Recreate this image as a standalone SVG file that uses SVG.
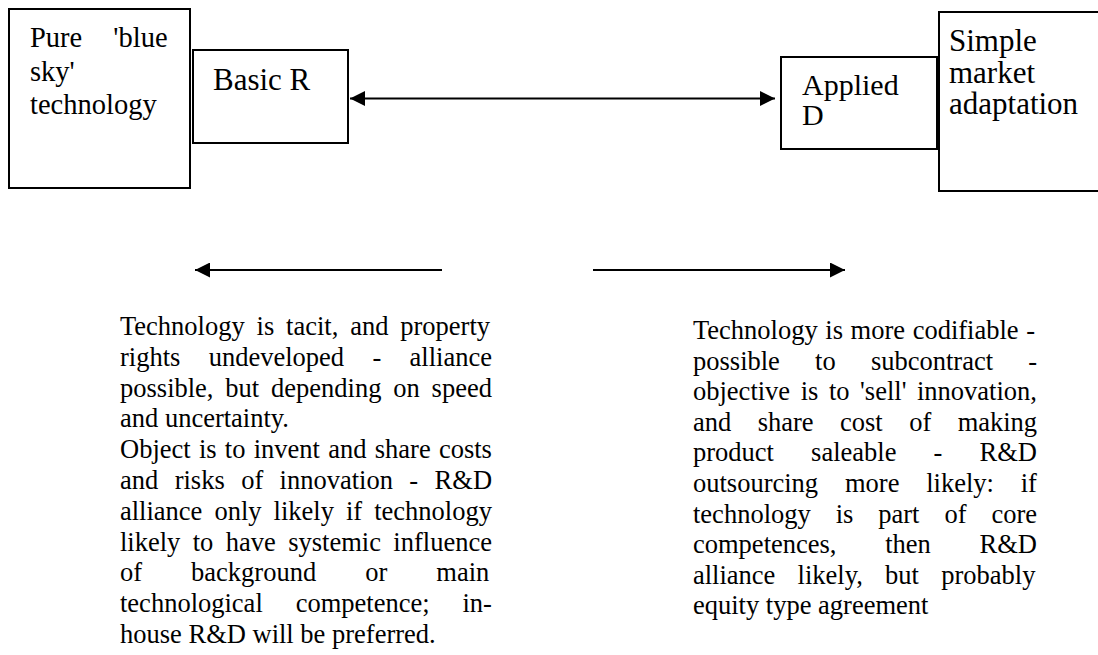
<svg xmlns="http://www.w3.org/2000/svg" width="1098" height="655" viewBox="0 0 1098 655">
<style>
  .box { fill: #fff; stroke: #000; stroke-width: 2; }
  .t { font-family: "Liberation Serif", "Times New Roman", serif; fill: #000; }
  .body { font-size: 26.5px; }
  .conn { stroke: #000; stroke-width: 2; fill: none; }
</style>
<defs>
  <marker id="ah" markerUnits="userSpaceOnUse" markerWidth="15" markerHeight="15" refX="15" refY="7.5" orient="auto-start-reverse">
    <path d="M0,0 L15,7.5 L0,15 z" fill="#000"/>
  </marker>
</defs>
<rect width="1098" height="655" fill="#fff"/>

<g id="node-blue-sky">
  <rect class="box" x="9" y="9" width="181" height="179"/>
  <text class="t" font-size="28.5" x="30" y="47" word-spacing="24">Pure 'blue</text>
  <text class="t" font-size="28.5" x="30" y="80.5">sky'</text>
  <text class="t" font-size="28.5" x="30" y="114">technology</text>
</g>
<g id="node-basic-r">
  <rect class="box" x="193" y="50" width="155" height="93"/>
  <text class="t" font-size="31" x="213" y="90">Basic R</text>
</g>
<g id="node-applied-d">
  <rect class="box" x="781" y="57" width="156" height="92"/>
  <text class="t" font-size="30" x="802" y="95">Applied</text>
  <text class="t" font-size="30" x="802" y="125">D</text>
</g>
<g id="node-market">
  <rect class="box" x="939" y="12" width="170" height="179"/>
  <text class="t" font-size="31" x="949" y="51">Simple</text>
  <text class="t" font-size="31" x="949" y="82.5">market</text>
  <text class="t" font-size="31" x="949" y="114">adaptation</text>
</g>

<g id="connectors">
  <line class="conn" x1="350" y1="98.5" x2="775" y2="98.5" marker-start="url(#ah)" marker-end="url(#ah)"/>
  <line class="conn" x1="442" y1="270" x2="195" y2="270" marker-end="url(#ah)"/>
  <line class="conn" x1="593" y1="270" x2="845" y2="270" marker-end="url(#ah)"/>
</g>

<g id="text-left" class="t body">
  <text x="120" y="335" word-spacing="5.22">Technology is tacit, and property</text>
  <text x="120" y="365.8" word-spacing="21.7">rights undeveloped - alliance</text>
  <text x="120" y="396.6" word-spacing="5.22">possible, but depending on speed</text>
  <text x="120" y="427.4">and uncertainty.</text>
  <text x="120" y="458.2" word-spacing="1.64">Object is to invent and share costs</text>
  <text x="120" y="489" word-spacing="9.78">and risks of innovation - R&amp;D</text>
  <text x="120" y="519.8" word-spacing="5.4">alliance only likely if technology</text>
  <text x="120" y="550.6" word-spacing="5.78">likely to have systemic influence</text>
  <text x="120" y="581.4" word-spacing="42.4">of background or main</text>
  <text x="120" y="612.2" word-spacing="26.3">technological competence; in-</text>
  <text x="120" y="643">house R&amp;D will be preferred.</text>
</g>

<g id="text-right" class="t body">
  <text x="693" y="339" word-spacing="0.98">Technology is more codifiable -</text>
  <text x="693" y="369.6" word-spacing="28.6">possible to subcontract -</text>
  <text x="693" y="400.2" word-spacing="3.93">objective is to 'sell' innovation,</text>
  <text x="693" y="430.8" word-spacing="19.8">and share cost of making</text>
  <text x="693" y="461.4" word-spacing="30.5">product saleable - R&amp;D</text>
  <text x="693" y="492" word-spacing="20.2">outsourcing more likely: if</text>
  <text x="693" y="522.6" word-spacing="18.3">technology is part of core</text>
  <text x="693" y="553.2" word-spacing="42.1">competences, then R&amp;D</text>
  <text x="693" y="583.8" word-spacing="15.6">alliance likely, but probably</text>
  <text x="693" y="614.4">equity type agreement</text>
</g>
</svg>
